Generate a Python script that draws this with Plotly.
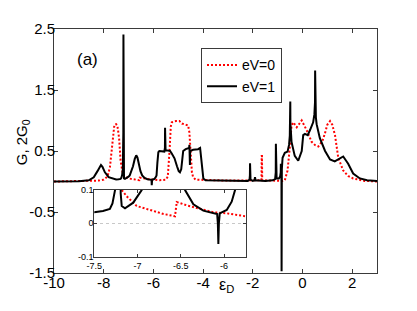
import plotly.graph_objects as go

# ---- data: conductance vs epsilon_D ----
# eV = 1 (black, solid)
black_x = [-10.0, -9.0, -8.6, -8.4, -8.25, -8.15, -8.11, -8.05, -7.95, -7.8,
           -7.6, -7.5, -7.4, -7.32, -7.29, -7.26, -7.23, -7.21, -7.205, -7.2,
           -7.195, -7.183, -7.145, -7.05, -7.0, -6.952, -6.9, -6.82, -6.75, -6.69,
           -6.64, -6.58, -6.52, -6.451, -6.355, -6.24, -6.124, -6.08, -6.072, -6.066,
           -6.06, -6.05, -6.027, -5.969, -5.912, -5.873, -5.84, -5.8, -5.76, -5.6,
           -5.56, -5.535, -5.53, -5.525, -5.51, -5.45, -5.33, -5.26, -5.15, -5.05,
           -4.98, -4.93, -4.88, -4.84, -4.8, -4.7, -4.6, -4.56, -4.55, -4.54,
           -4.53, -4.52, -4.4, -4.2, -4.12, -4.06, -3.99, -3.9, -3.0, -2.2,
           -2.13, -2.115, -2.11, -2.105, -2.09, -2.0, -1.93, -1.91, -1.89, -1.5,
           -1.2, -1.1, -1.075, -1.07, -1.065, -1.04, -0.95, -0.9, -0.875, -0.87,
           -0.865, -0.85, -0.845, -0.84, -0.835, -0.83, -0.80, -0.71, -0.6, -0.54,
           -0.51, -0.495, -0.49, -0.485, -0.47, -0.44, -0.31, -0.17, -0.03, 0.03,
           0.10, 0.21, 0.30, 0.43, 0.48, 0.505, 0.51, 0.515, 0.54, 0.57,
           0.70, 0.91, 1.11, 1.3, 1.45, 1.64, 1.84, 2.04, 2.31, 2.6,
           3.0]
black_y = [0.0, 0.003, 0.02, 0.07, 0.17, 0.26, 0.27, 0.24, 0.15, 0.07,
           0.04, 0.033, 0.037, 0.043, 0.06, 0.1, 0.2, 0.8, 2.41, 0.8,
           0.09, 0.052, 0.045, 0.062, 0.08, 0.1, 0.15, 0.25, 0.37, 0.43,
           0.39, 0.27, 0.17, 0.1, 0.057, 0.038, 0.03, 0.028, 0.0, -0.062,
           0.0, 0.03, 0.033, 0.04, 0.065, 0.1, 0.3, 0.48, 0.5, 0.5,
           0.49, 0.55, 0.88, 0.55, 0.51, 0.51, 0.5, 0.46, 0.38, 0.25,
           0.17, 0.15, 0.2, 0.35, 0.5, 0.53, 0.54, 0.55, 0.6, 0.45,
           0.27, 0.5, 0.52, 0.53, 0.55, 0.25, 0.05, 0.02, 0.01, 0.01,
           0.03, 0.1, 0.30, 0.1, 0.03, 0.01, 0.02, 0.07, 0.02, 0.01,
           0.02, 0.04, 0.15, 0.62, 0.15, 0.05, 0.05, 0.08, 0.15, 0.29,
           0.15, 0.1, 0.0, -1.47, 0.0, 0.2, 0.39, 0.47, 0.49, 0.6,
           0.75, 0.95, 1.31, 0.95, 0.75, 0.65, 0.42, 0.34, 0.5, 0.76,
           0.78, 0.76, 0.84, 0.97, 1.1, 1.3, 1.82, 1.3, 1.05, 0.94,
           0.71, 0.50, 0.36, 0.33, 0.36, 0.41, 0.29, 0.13, 0.05, 0.02,
           0.01]

# eV = 0 (red, dotted)
red_x = [-10.0, -9.0, -8.4, -8.2, -8.0, -7.85, -7.75, -7.68, -7.61, -7.57,
         -7.5, -7.45, -7.38, -7.32, -7.24, -7.183, -7.125, -7.01, -6.894, -6.70,
         -6.567, -6.547, -6.432, -6.278, -6.124, -5.969, -5.75, -5.5, -5.42, -5.35,
         -5.3, -5.26, -5.1, -4.95, -4.85, -4.7, -4.6, -4.55, -4.52, -4.48,
         -4.45, -4.4, -4.3, -3.0, -2.0, -1.65, -1.64, -1.63, -1.62, -1.2,
         -0.8, -0.71, -0.60, -0.5, -0.44, -0.37, -0.23, -0.03, 0.17, 0.37,
         0.50, 0.64, 0.8, 0.905, 1.0, 1.11, 1.2, 1.31, 1.44, 1.64,
         1.84, 2.04, 2.5, 3.0]
red_y = [0.0, 0.003, 0.01, 0.015, 0.03, 0.08, 0.23, 0.55, 0.86, 0.93,
         0.94, 0.92, 0.71, 0.34, 0.15, 0.1, 0.081, 0.052, 0.043, 0.028,
         0.021, 0.064, 0.054, 0.043, 0.033, 0.03, 0.021, 0.03, 0.08, 0.5,
         0.9, 0.97, 0.99, 0.99, 0.95, 0.93, 0.92, 0.8, 0.6, 0.34,
         0.15, 0.07, 0.03, 0.015, 0.01, 0.02, 0.42, 0.42, 0.02, 0.01,
         0.01, 0.02, 0.18, 0.6, 0.92, 0.97, 0.89, 1.0, 0.84, 0.65,
         0.6, 0.575, 0.66, 0.79, 0.93, 0.99, 0.93, 0.76, 0.39, 0.18,
         0.09, 0.05, 0.01, 0.0]

assert len(black_x) == len(black_y)
assert len(red_x) == len(red_y)

x_ticks = [-10, -8, -6, -4, -2, 0, 2]
x_ticktext = ["-10", "-8", "-6", "-4", "-2", "0", "2"]
y_ticks = [-1.5, -0.5, 0.5, 1.5, 2.5]
y_ticktext = ["-1.5", "-0.5", "0.5", "1.5", "2.5"]
inset_x_ticks = [-7.5, -7, -6.5, -6]
inset_x_ticktext = ["-7.5", "-7", "-6.5", "-6"]
inset_y_ticks = [-0.1, 0, 0.1]
inset_y_ticktext = ["-0.1", "0", "0.1"]

FONT = "Liberation Sans, Arial, Helvetica, sans-serif"
RED = "#ff0000"
BLACK = "#000000"
AXC = "#3a3a3a"

fig = go.Figure()
# main plot
fig.add_trace(go.Scatter(x=red_x, y=red_y, mode="lines", name="eV=0",
                         line=dict(color=RED, width=2, dash="2px,2px"),
                         xaxis="x", yaxis="y"))
fig.add_trace(go.Scatter(x=black_x, y=black_y, mode="lines", name="eV=1",
                         line=dict(color=BLACK, width=2),
                         xaxis="x", yaxis="y"))
# inset
fig.add_trace(go.Scatter(x=red_x, y=red_y, mode="lines", showlegend=False,
                         line=dict(color=RED, width=2, dash="2px,2px"),
                         xaxis="x2", yaxis="y2"))
fig.add_trace(go.Scatter(x=black_x, y=black_y, mode="lines", showlegend=False,
                         line=dict(color=BLACK, width=2),
                         xaxis="x2", yaxis="y2"))

# The page body has an 8px default margin, so the figure is drawn 8px in
# from the window's top-left corner; size it to fill the 417x311 window.
OFF = 8
W, H = 417 - 2 * OFF, 311 - 2 * OFF
PL, PR, PT, PB = 54, 377, 24, 276          # plot box in window pixels
L, R, T, B = PL - OFF, W - (PR - OFF), PT - OFF, H - (PB - OFF)
pw, ph = PR - PL, PB - PT

def px_x(p):
    return (p - PL) / pw

def px_y(p):
    return (PB - p) / ph

axis_common = dict(showline=True, linecolor=AXC, linewidth=1, mirror="ticks",
                   ticks="inside", tickcolor=AXC, zeroline=False, showgrid=False)

fig.update_layout(
    width=W, height=H,
    margin=dict(l=L, r=R, t=T, b=B),
    paper_bgcolor="white", plot_bgcolor="white",
    font=dict(family=FONT, color="black"),
    showlegend=True,
    xaxis=dict(domain=[0, 1], anchor="y", range=[-10, 3],
               tickvals=x_ticks, ticktext=x_ticktext, ticklen=4,
               ticklabelstandoff=-4,
               tickfont=dict(size=15), **axis_common),
    yaxis=dict(domain=[0, 1], anchor="x", range=[-1.5, 2.5],
               tickvals=y_ticks, ticktext=y_ticktext, ticklen=4,
               ticklabelstandoff=-5,
               tickfont=dict(size=15), **axis_common),
    xaxis2=dict(domain=[px_x(94.3), px_x(245.7)], anchor="y2", range=[-7.5, -5.75],
                tickvals=inset_x_ticks, ticktext=inset_x_ticktext, ticklen=3,
                ticklabelstandoff=1,
                tickfont=dict(size=9), **axis_common),
    yaxis2=dict(domain=[px_y(259), px_y(190.3)], anchor="x2", range=[-0.1, 0.1],
                tickvals=inset_y_ticks, ticktext=inset_y_ticktext, ticklen=3,
                ticklabelstandoff=-2,
                tickfont=dict(size=9),
                showline=True, linecolor=AXC, linewidth=1, mirror="ticks",
                ticks="inside", tickcolor=AXC, zeroline=False,
                showgrid=True, gridcolor="#c8c8c8", griddash="dot", gridwidth=1),
    legend=dict(x=px_x(201), y=px_y(44), xanchor="left", yanchor="top",
                bgcolor="white", bordercolor=AXC, borderwidth=1,
                font=dict(size=14), tracegroupgap=0, itemwidth=30),
    annotations=[
        dict(text="(a)", xref="paper", yref="paper", x=px_x(87.5), y=px_y(55.5),
             showarrow=False, font=dict(size=17), xanchor="center", yanchor="middle"),
        dict(text="ε<sub>D</sub>", xref="paper", yref="paper", x=px_x(226), y=px_y(289),
             showarrow=False, font=dict(size=16), xanchor="center", yanchor="middle"),
        dict(text="G, 2G<sub>0</sub>", xref="paper", yref="paper", x=px_x(22), y=px_y(141),
             showarrow=False, font=dict(size=15), textangle=-90,
             xanchor="center", yanchor="middle"),
    ],
)

fig.write_html("out.html")
